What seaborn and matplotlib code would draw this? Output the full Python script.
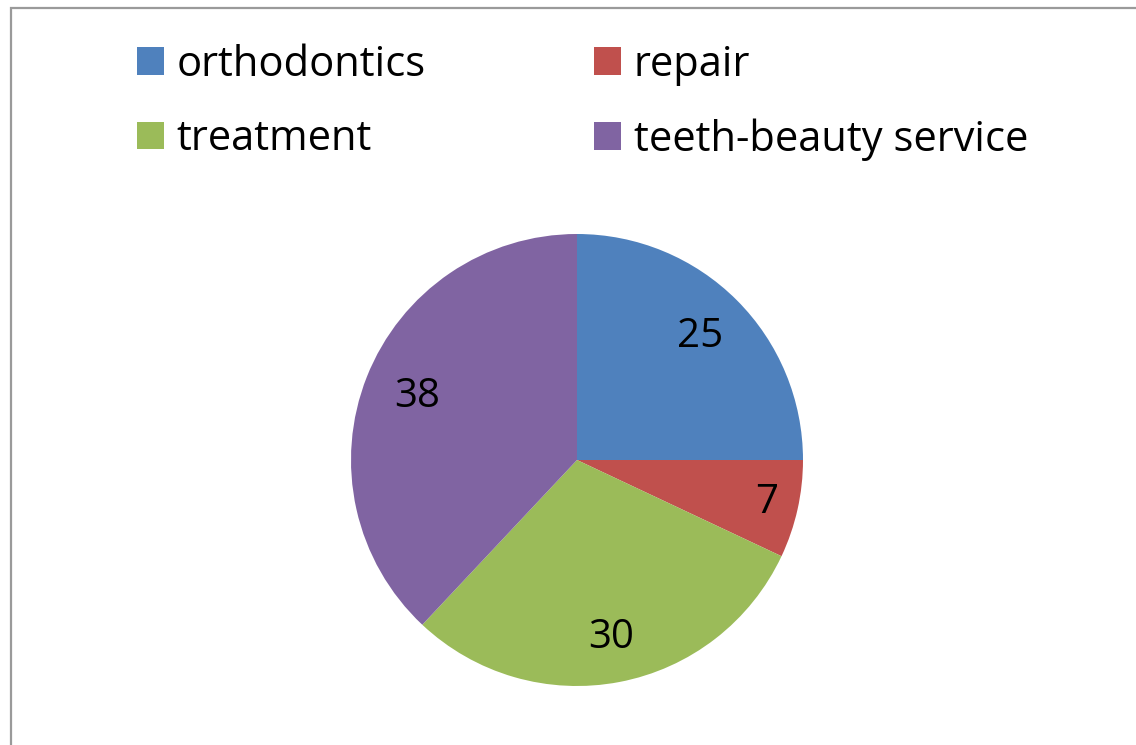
import matplotlib
matplotlib.use("Agg")
import matplotlib.pyplot as plt
from matplotlib.patches import Rectangle
import numpy as np
import seaborn as sns

# Service share data
categories = ["orthodontics", "repair", "treatment", "teeth-beauty service"]
values = [25, 7, 30, 38]
colors = ["#4F81BD", "#C0504D", "#9BBB59", "#8064A2"]

sns.set_theme(style="white")
plt.rcParams["font.family"] = ["Open Sans", "DejaVu Sans"]
plt.rcParams["text.color"] = "black"

W, H = 1136, 745
fig = plt.figure(figsize=(W / 100, H / 100), dpi=100)
fig.patch.set_facecolor("white")

# Pie axes: centre (577, 460) px, radius 226 px
cx, cy, r = 577, 460, 226
ax = fig.add_axes([(cx - r) / W, (H - cy - r) / H, 2 * r / W, 2 * r / H])
wedges, _ = ax.pie(values, colors=colors, startangle=90, counterclock=False,
                   radius=1.0, wedgeprops=dict(linewidth=0))
ax.set_xlim(-1, 1)
ax.set_ylim(-1, 1)
ax.set_aspect("equal")
ax.axis("off")

# Value labels at slice mid-angles
label_dist = [0.77, 0.86, 0.80, 0.76]
total = sum(values)
start = 90.0
for v, d in zip(values, label_dist):
    span = 360.0 * v / total
    mid = np.deg2rad(start - span / 2)
    ax.text(d * np.cos(mid), d * np.sin(mid), f"{v}", ha="center", va="center",
            fontsize=29, color="black")
    start -= span

# Legend in two rows across the top
fs = 30
order = [0, 2, 1, 3]
leg = fig.legend([wedges[i] for i in order], [categories[i] for i in order],
                 ncol=2, loc="upper left",
                 bbox_to_anchor=(120 / W, 1 - 27 / H),
                 frameon=False, fontsize=fs, handlelength=0.65, handleheight=0.65,
                 handletextpad=0.3, columnspacing=4.05, labelspacing=0.78,
                 borderaxespad=0)
for t in leg.get_texts():
    t.set_color("black")

# Chart frame
fig.patches.append(Rectangle((10.5 / W, -0.05), 1.2, 1 - 8 / H + 0.05,
                             transform=fig.transFigure, fill=False,
                             edgecolor="#9a9a9a", linewidth=1.6))

fig.savefig("out.png", dpi=100)
